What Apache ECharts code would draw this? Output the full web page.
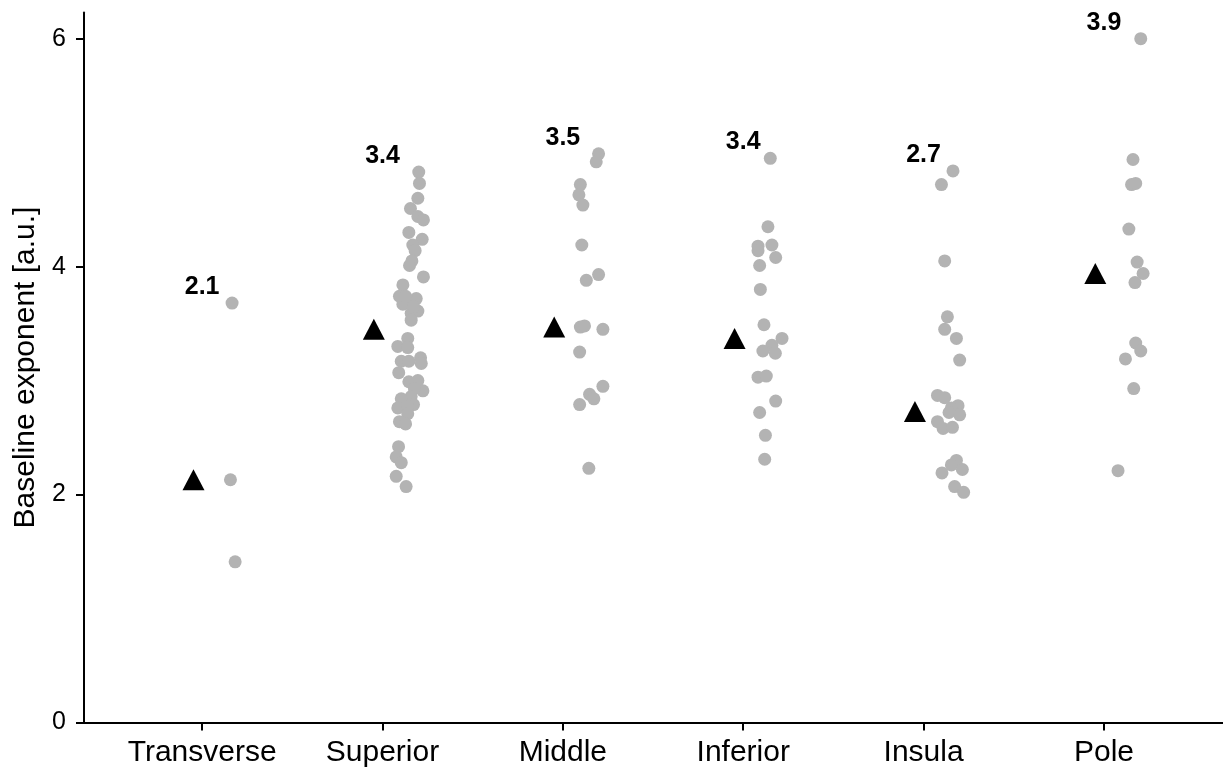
<!DOCTYPE html>
<html><head><meta charset="utf-8">
<script src="https://cdn.jsdelivr.net/npm/echarts@6/dist/echarts.min.js"></script>
<style>html,body{margin:0;padding:0;background:#fff}#c{width:1223px;height:768px}</style>
</head><body><div id="c"></div>
<script>
const categories = ['Transverse', 'Superior', 'Middle', 'Inferior', 'Insula', 'Pole'];

const transverseValues = [3.68, 2.13, 1.41];
const transverseJitter = [0.166, 0.157, 0.183];

const superiorValues = [4.83, 4.73, 4.60, 4.51, 4.44, 4.41, 4.30, 4.24, 4.19, 4.14, 4.05, 4.01, 3.91, 3.84, 3.74, 3.72, 3.69, 3.67, 3.61, 3.59, 3.53, 3.74, 3.65,
  3.37, 3.30, 3.29, 3.17, 3.17, 3.20, 3.15, 3.07, 2.99, 3.00, 2.91, 2.93, 2.86, 2.84, 2.79, 2.76, 2.77, 2.71, 2.64, 2.62, 2.42, 2.33, 2.28, 2.16, 2.07];
const superiorJitter = [0.201, 0.205, 0.196, 0.155, 0.196, 0.227, 0.146, 0.220, 0.168, 0.181, 0.163, 0.150, 0.227, 0.113, 0.094, 0.187, 0.150, 0.113, 0.196, 0.159, 0.159, 0.128, 0.172,
  0.140, 0.085, 0.140, 0.104, 0.146, 0.211, 0.215, 0.090, 0.146, 0.196, 0.224, 0.177, 0.159, 0.104, 0.172, 0.085, 0.140, 0.140, 0.094, 0.128, 0.089, 0.076, 0.104, 0.076, 0.131];

const middleValues = [4.99, 4.92, 4.72, 4.63, 4.54, 4.19, 3.93, 3.88, 3.47, 3.48, 3.45, 3.25, 2.95, 2.88, 2.84, 2.79, 2.23];
const middleJitter = [0.198, 0.185, 0.097, 0.089, 0.111, 0.105, 0.198, 0.130, 0.097, 0.120, 0.222, 0.093, 0.222, 0.148, 0.172, 0.093, 0.144];

const inferiorValues = [4.95, 4.35, 4.18, 4.14, 4.19, 4.08, 4.01, 3.80, 3.49, 3.37, 3.31, 3.26, 3.24, 3.03, 3.04, 2.82, 2.72, 2.52, 2.31];
const inferiorJitter = [0.150, 0.137, 0.082, 0.082, 0.159, 0.180, 0.091, 0.095, 0.115, 0.215, 0.159, 0.109, 0.178, 0.082, 0.128, 0.180, 0.091, 0.123, 0.119];

const insulaValues = [4.84, 4.72, 4.05, 3.56, 3.45, 3.37, 3.18, 2.87, 2.85, 2.78, 2.76, 2.72, 2.70, 2.64, 2.58, 2.59, 2.30, 2.26, 2.22, 2.19, 2.07, 2.02];
const insulaJitter = [0.163, 0.099, 0.117, 0.132, 0.117, 0.182, 0.200, 0.077, 0.117, 0.191, 0.154, 0.141, 0.200, 0.077, 0.108, 0.160, 0.182, 0.154, 0.215, 0.102, 0.172, 0.222];

const poleValues = [6.00, 4.94, 4.72, 4.73, 4.33, 4.04, 3.94, 3.86, 3.33, 3.26, 3.19, 2.93, 2.21];
const poleJitter = [0.204, 0.161, 0.153, 0.176, 0.138, 0.184, 0.217, 0.172, 0.176, 0.204, 0.119, 0.165, 0.078];

const medians = [2.13, 3.45, 3.47, 3.37, 2.73, 3.94];
const medianLabels = ['2.1', '3.4', '3.5', '3.4', '2.7', '3.9'];
const yTicks = [0, 2, 4, 6];

const groupValues = [transverseValues, superiorValues, middleValues, inferiorValues, insulaValues, poleValues];
const groupJitter = [transverseJitter, superiorJitter, middleJitter, inferiorJitter, insulaJitter, poleJitter];

const dots = [];
groupValues.forEach((vals, i) => {
  vals.forEach((v, j) => dots.push([i + groupJitter[i][j], v]));
});
const medianPts = medians.map((m, i) => [i - 0.048, m]);
const labelPts = groupValues.map((vals, i) => [i, Math.max(...vals) + 0.14, medianLabels[i]]);
const catIdx = categories.map((c, i) => i);

const FONT = '"Liberation Sans", Arial, sans-serif';
const chart = echarts.init(document.getElementById('c'), null, {renderer: 'canvas'});
chart.setOption({
  animation: false,
  backgroundColor: '#fff',
  grid: {left: 84, top: 12.5, width: 1139, height: 710},
  xAxis: {
    type: 'value', min: -0.655, max: 5.66,
    splitLine: {show: false},
    axisLine: {show: true, onZero: false, lineStyle: {color: '#000', width: 2}},
    axisTick: {show: true, customValues: catIdx, length: 8, lineStyle: {color: '#000', width: 2}},
    axisLabel: {customValues: catIdx, formatter: v => categories[Math.round(v)] || '',
      color: '#000', fontSize: 30, fontFamily: FONT, margin: 15}
  },
  yAxis: {
    type: 'value', min: 0, max: 6.23,
    name: 'Baseline exponent [a.u.]', nameLocation: 'middle', nameRotate: 90, nameGap: 43,
    nameTextStyle: {color: '#000', fontSize: 30, fontFamily: FONT},
    splitLine: {show: false},
    axisLine: {show: true, onZero: false, lineStyle: {color: '#000', width: 2}},
    axisTick: {show: true, customValues: yTicks, length: 8, lineStyle: {color: '#000', width: 2}},
    axisLabel: {customValues: yTicks, color: '#000', fontSize: 25, fontFamily: FONT, margin: 18}
  },
  series: [
    {type: 'scatter', data: dots, symbol: 'circle', symbolSize: 13,
      itemStyle: {color: '#b3b3b3', opacity: 1}, z: 2},
    {type: 'scatter', data: medianPts, symbol: 'triangle', symbolSize: [22, 21],
      itemStyle: {color: '#000', opacity: 1}, z: 3},
    {type: 'scatter', data: labelPts, symbolSize: 1, itemStyle: {color: 'transparent', opacity: 1},
      label: {show: true, position: 'inside', formatter: p => p.data[2], color: '#000', opacity: 1,
        fontSize: 25, fontWeight: 'bold', fontFamily: FONT, verticalAlign: 'middle', align: 'center'}, z: 4}
  ]
});
</script></body></html>
